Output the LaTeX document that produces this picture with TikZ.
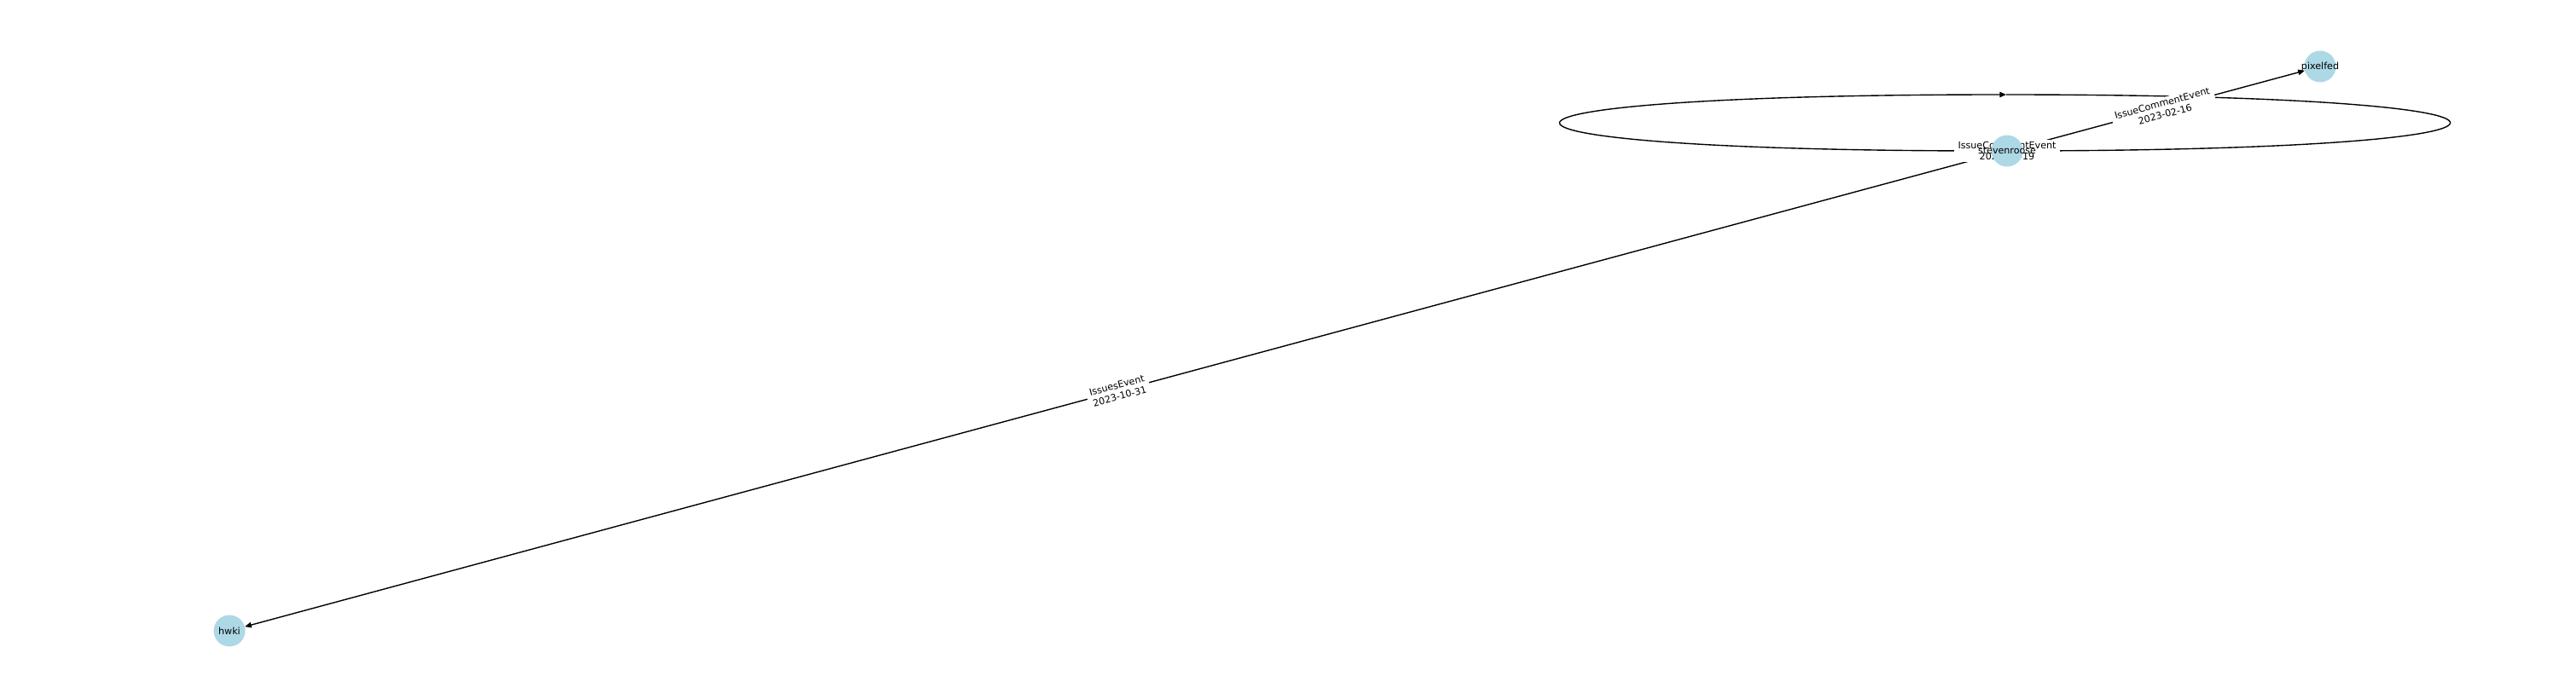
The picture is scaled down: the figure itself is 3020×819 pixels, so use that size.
\documentclass[tikz,border=0pt]{standalone}
\usepackage{fontspec}
\setmainfont{DejaVu Sans}
\usepackage{tikz}
\usetikzlibrary{arrows.meta,positioning,backgrounds,calc}
\definecolor{ghblue}{HTML}{ADD8E6}
\definecolor{ghink}{HTML}{000000}
\tikzset{
  usr/.style  = {circle, fill=ghblue, draw=none, minimum size=26.6pt,
                 inner sep=0pt, font=\fontsize{8}{9.6}\selectfont, text=ghink},
  ln/.style   = {draw=ghink, line width=1pt},
  ed/.style   = {ln, -{Triangle[length=5.5pt,width=4.6pt]}},
  elbl/.style = {fill=white, align=center, inner xsep=3pt, inner ysep=1.5pt,
                 font=\fontsize{8}{9.6}\selectfont, text=ghink},
}
\newcommand{\uname}[1]{\makebox[0pt]{#1}}

\begin{document}
\begin{tikzpicture}[x=0.72pt,y=-0.72pt]
  \useasboundingbox (0,0) rectangle (3020,819);
  \node[usr] (steven) at (2353,177) {\uname{stevenroose}};
  \node[usr] (pixel)  at (2720,78)  {\uname{pixelfed}};
  \node[usr] (hwki)   at (269,740)  {\uname{hwki}};
  \coordinate (looptop) at (2352,111);
  \begin{scope}[on background layer]
    % self-loop of stevenroose
    \draw[ed] (steven) .. controls (1658,177) and (1658,111) .. (looptop);
    \draw[ln] (looptop) .. controls (3046,111) and (3046,177) .. (steven.center);
    \draw[ed] (steven) -- node[elbl,sloped] {IssueCommentEvent\\2023-02-16} (pixel);
    \draw[ed] (steven) -- node[elbl,sloped] {IssuesEvent\\2023-10-31} (hwki);
    \node[elbl] (looplbl) at (steven) {IssueCommentEvent\\2023-02-19};
  \end{scope}
\end{tikzpicture}
\end{document}
